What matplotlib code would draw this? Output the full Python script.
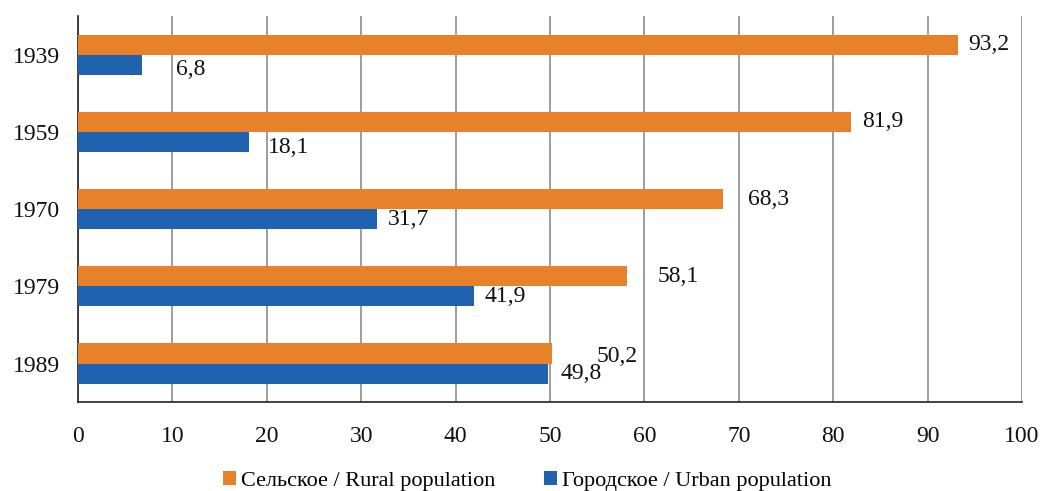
import numpy as np
import matplotlib
matplotlib.use("Agg")
import matplotlib.pyplot as plt

# population shares by census year, percent
years = ["1939", "1959", "1970", "1979", "1989"]
rural = [93.2, 81.9, 68.3, 58.1, 50.2]
urban = [6.8, 18.1, 31.7, 41.9, 49.8]
rural_name = "Сельское / Rural population"
urban_name = "Городское / Urban population"

# label nudges in pixels: dx from bar end, dy (negative moves down)
rural_shift = [(10, 0), (11, 0), (25, 0), (31, 0), (45, -3)]
urban_shift = [(34, -5), (19, -5), (11, 0), (11, 0), (12, 0)]

ORANGE = "#E8822A"
BLUE = "#1F62B0"
FS = 17

plt.rcParams["font.family"] = ["Liberation Serif", "DejaVu Serif"]

fig = plt.figure(figsize=(10.44, 4.91), dpi=100)
ax = fig.add_axes([0.0747, 0.181, 0.9043, 0.786])

pos = np.arange(len(years))
h = 0.26
ax.barh(pos - h / 2, rural, height=h, color=ORANGE, label=rural_name, zorder=3)
ax.barh(pos + h / 2, urban, height=h, color=BLUE, label=urban_name, zorder=3)

px = 72 / 100
for i in range(len(years)):
    dx, dy = rural_shift[i]
    ax.annotate(f"{rural[i]:.1f}".replace(".", ","), (rural[i], pos[i] - h / 2),
                xytext=(dx * px, dy * px), textcoords="offset points",
                ha="left", va="center", fontsize=FS, color="#111111")
    dx, dy = urban_shift[i]
    ax.annotate(f"{urban[i]:.1f}".replace(".", ","), (urban[i], pos[i] + h / 2),
                xytext=(dx * px, dy * px), textcoords="offset points",
                ha="left", va="center", fontsize=FS, color="#111111")

ax.set_xlim(0, 100)
ax.set_ylim(len(years) - 0.5, -0.5)
ax.set_xticks(np.arange(0, 101, 10))
ax.set_yticks(pos)
ax.set_yticklabels(years)
ax.tick_params(axis="both", labelsize=FS, length=0, colors="#111111")
ax.tick_params(axis="x", pad=17)
ax.tick_params(axis="y", pad=13)
ax.xaxis.grid(True, color="#8c8c8c", linewidth=1.2, zorder=0)

for s in ["top", "right"]:
    ax.spines[s].set_visible(False)
for s in ["left", "bottom"]:
    ax.spines[s].set_color("#222222")
    ax.spines[s].set_linewidth(1.2)

fig.legend(loc="lower center", bbox_to_anchor=(0.505, -0.04), ncol=2,
           frameon=False, fontsize=16, handlelength=0.6, handleheight=0.6,
           handletextpad=0.2, columnspacing=2.2)

fig.savefig("out.png", dpi=100)
